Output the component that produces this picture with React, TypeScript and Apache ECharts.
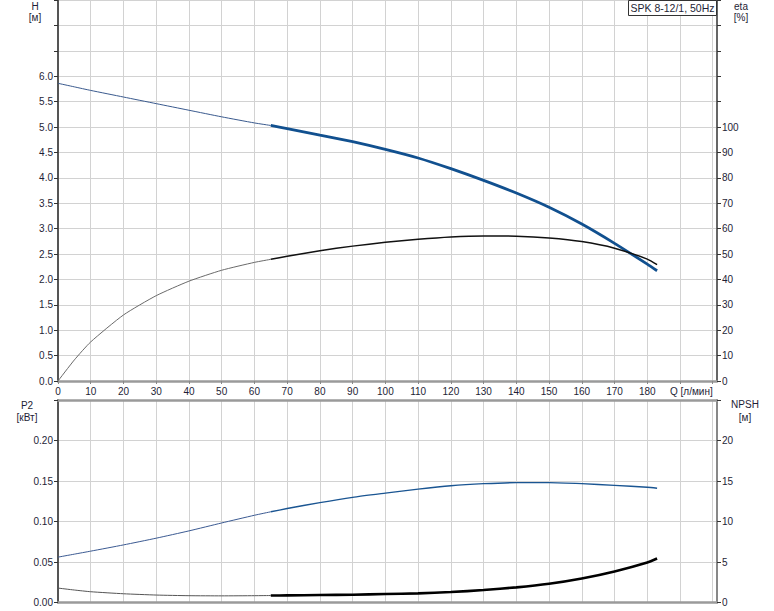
import React, { useEffect, useRef } from "react";
import * as echarts from "echarts";

// Flow Q [л/мин]
const Q = [0, 5, 10, 20, 30, 40, 50, 60, 65, 70, 80, 90, 100, 110, 120, 130, 140, 150, 160, 170, 180, 183];
// Head H [м]
const H = [5.86, 5.79, 5.72, 5.59, 5.46, 5.33, 5.2, 5.08, 5.03, 4.97, 4.84, 4.71, 4.56, 4.39, 4.18, 3.95, 3.7, 3.42, 3.09, 2.71, 2.3, 2.17];
// Efficiency eta [%]
const ETA = [0, 8.3, 15.4, 26.0, 33.6, 39.3, 43.6, 46.7, 47.9, 49.1, 51.3, 53.1, 54.6, 55.8, 56.7, 57.1, 57.0, 56.3, 54.9, 52.3, 48.0, 45.8];
// Power P2 [кВт]
const P2 = [0.056, 0.0597, 0.0634, 0.0711, 0.0794, 0.0884, 0.0982, 0.1077, 0.112, 0.116, 0.1233, 0.1298, 0.135, 0.14, 0.1442, 0.1467, 0.148, 0.148, 0.1467, 0.1446, 0.1422, 0.141];
// NPSH [м]
const NPSH = [1.78, 1.54, 1.33, 1.08, 0.92, 0.84, 0.82, 0.84, 0.86, 0.88, 0.92, 0.96, 1.05, 1.13, 1.29, 1.54, 1.87, 2.32, 2.97, 3.84, 4.95, 5.44];

const SPLIT_Q = 65;
const TITLE = "SPK 8-12/1, 50Hz";

const FONT = "'Liberation Sans', Arial, sans-serif";
const TXT = "#1e1e36";
const GRIDC = "#d2d2d2";

export default function App() {
  const ref = useRef<HTMLDivElement>(null);
  useEffect(() => {
    if (!ref.current) return;
    const chart = echarts.init(ref.current, undefined, { renderer: "svg" });
    const si = Q.indexOf(SPLIT_Q);
    const pts = (v: number[]) => Q.map((q, i) => [q, v[i]]);
    const lo = (v: number[]) => pts(v).slice(0, si + 1);
    const hi = (v: number[]) => pts(v).slice(si);
    const XMAX = 201.3;
    const xCommon = (gi: number, showLabels: boolean) => ({
      type: "value",
      gridIndex: gi,
      min: 0,
      max: XMAX,
      interval: 10,
      position: "bottom",
      axisLine: { show: true, onZero: false, lineStyle: { color: "#9a9a9a", width: 2.5 } },
      axisTick: { show: showLabels, length: 3, lineStyle: { color: "#888", width: 1 } },
      axisLabel: {
        show: showLabels,
        fontSize: 10,
        fontFamily: FONT,
        color: TXT,
        margin: 5,
        showMaxLabel: false,
        formatter: (v: number) => (v > 185 ? "" : String(v)),
      },
      splitLine: { show: true, lineStyle: { color: GRIDC, width: 1 } },
    });
    const yAx = (gi: number, pos: string, max: number, interval: number, showMax: number, digits: number, lineColor: string) => ({
      type: "value",
      gridIndex: gi,
      position: pos,
      min: 0,
      max,
      interval,
      axisLine: { show: true, onZero: false, lineStyle: { color: lineColor, width: 2 } },
      axisTick: { show: true, length: 4, lineStyle: { color: "#333", width: 1 } },
      axisLabel: {
        fontSize: 10,
        fontFamily: FONT,
        color: TXT,
        margin: 5,
        formatter: (v: number) => (v > showMax + 1e-9 ? "" : v.toFixed(digits)),
      },
      splitLine: { show: pos === "left", lineStyle: { color: GRIDC, width: 1 } },
    });
    const line = (name: string, data: number[][], xi: number, yi: number, color: string, width: number) => ({
      type: "line",
      name,
      data,
      xAxisIndex: xi,
      yAxisIndex: yi,
      showSymbol: false,
      smooth: 0.2,
      lineStyle: { color, width },
      z: 5,
    });
    const txt = (text: string, x: number, y: number, align = "center") => ({
      type: "text",
      x,
      y,
      style: { text, fill: TXT, font: `10px ${FONT}`, textAlign: align, textVerticalAlign: "middle" },
      z: 10,
    });
    chart.setOption({
      animation: false,
      backgroundColor: "#ffffff",
      grid: [
        { left: 58, right: 57, top: 0, height: 381 },
        { left: 58, right: 57, top: 400, height: 202.5 },
      ],
      xAxis: [
        xCommon(0, true),
        xCommon(1, false),
        {
          type: "value",
          gridIndex: 1,
          position: "top",
          min: 0,
          max: XMAX,
          axisLine: { show: true, onZero: false, lineStyle: { color: "#9a9a9a", width: 2.5 } },
          axisTick: { show: false },
          axisLabel: { show: false },
          splitLine: { show: false },
        },
      ],
      yAxis: [
        yAx(0, "left", 7.5, 0.5, 6.0, 1, "#555"),
        yAx(0, "right", 150, 10, 100, 0, "#666"),
        yAx(1, "left", 0.25, 0.05, 0.2, 2, "#555"),
        yAx(1, "right", 25, 5, 20, 0, "#888"),
      ],
      series: [
        line("H", lo(H), 0, 0, "#3a5a8e", 1),
        line("H", hi(H), 0, 0, "#11508f", 2.8),
        line("eta", lo(ETA), 0, 1, "#6a6a6a", 1),
        line("eta", hi(ETA), 0, 1, "#111", 1.5),
        line("P2", lo(P2), 1, 2, "#3b5a92", 1),
        line("P2", hi(P2), 1, 2, "#1a5592", 1.4),
        line("NPSH", lo(NPSH), 1, 3, "#555", 1),
        line("NPSH", hi(NPSH), 1, 3, "#000", 2.6),
      ],
      graphic: [
        txt("H", 35, 6),
        txt("[м]", 35, 17.5),
        txt("eta", 741, 6),
        txt("[%]", 741, 17),
        txt("P2", 27, 405),
        txt("[кВт]", 27, 417),
        txt("NPSH", 745, 404),
        txt("[м]", 745, 417),
        txt("Q [л/мин]", 670, 391.5, "left"),
        {
          type: "rect",
          shape: { x: 628.5, y: 0.5, width: 88, height: 15 },
          style: { fill: "#fff", stroke: "#333", lineWidth: 1 },
          z: 10,
        },
        {
          type: "text",
          x: 672.5,
          y: 8,
          style: { text: TITLE, fill: TXT, font: `10.5px ${FONT}`, textAlign: "center", textVerticalAlign: "middle" },
          z: 11,
        },
      ],
    });
    return () => chart.dispose();
  }, []);
  return <div ref={ref} style={{ width: 774, height: 611, position: "absolute", left: 0, top: 0 }} />;
}
